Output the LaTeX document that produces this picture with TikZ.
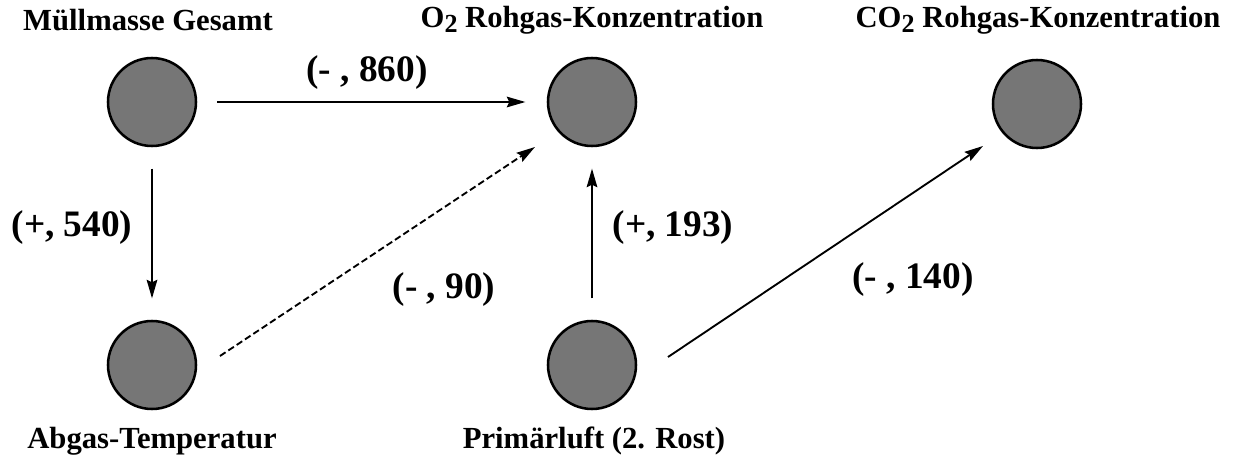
\documentclass[tikz,border=0pt]{standalone}
\usepackage{fontspec}
\setmainfont{Liberation Serif}
\usetikzlibrary{arrows.meta}
\definecolor{nodegray}{RGB}{118,118,118}
\newcommand{\subtwo}{\raisebox{-0.35ex}{\scalebox{0.85}{2}}}
\tikzset{
  state/.style={circle, draw=black, line width=1.9pt, fill=nodegray, minimum size=66pt, inner sep=0pt},
  title/.style={font=\fontsize{23}{26}\selectfont\bfseries, inner sep=0pt},
  wlabel/.style={font=\fontsize{28}{32}\selectfont\bfseries, inner sep=0pt},
  arr/.style={line width=1.4pt, -{Stealth[length=14pt,width=8pt,inset=2pt]}},
  darr/.style={arr, dash pattern=on 5pt off 2.5pt}
}
\begin{document}
\begin{tikzpicture}[x=0.75pt,y=-0.75pt]
\useasboundingbox (0,0) rectangle (1233,461);
\node[state] (mull) at (152,102) {};
\node[state] (o2) at (592,102) {};
\node[state] (co2) at (1037,104) {};
\node[state] (abgas) at (152,365) {};
\node[state] (primar) at (592,365) {};

\node[title] (tmull) at (148,20) {Müllmasse Gesamt};
\node[title] (to2) at (592,20) {O\subtwo{} Rohgas-Konzentration};
\node[title] (tco2) at (1038,20) {CO\subtwo{} Rohgas-Konzentration};
\node[title] (tabgas) at (152,441) {Abgas-Temperatur};
\node[title] (tprimar) at (594,441) {Primärluft (2. Rost)};

\draw[arr, shorten <=15pt, shorten >=16pt] (mull) -- (o2);
\draw[arr, shorten <=16pt, shorten >=16pt] (mull) -- (abgas);
\draw[arr, shorten <=16pt, shorten >=16pt] (primar) -- (o2);
\draw[darr] ([shift={(68,-9)}]abgas.center) -- ([shift={(-57,45)}]o2.center);
\draw[arr] ([shift={(76,-8)}]primar.center) -- ([shift={(-54,42)}]co2.center);

\node[wlabel] (l860) at (367,73) {(- , 860)};
\node[wlabel] (l540) at (72,228) {(+, 540)};
\node[wlabel] (l193) at (673,228) {(+, 193)};
\node[wlabel] (l90) at (444,290) {(- , 90)};
\node[wlabel] (l140) at (913,280) {(- , 140)};
\end{tikzpicture}
\end{document}
